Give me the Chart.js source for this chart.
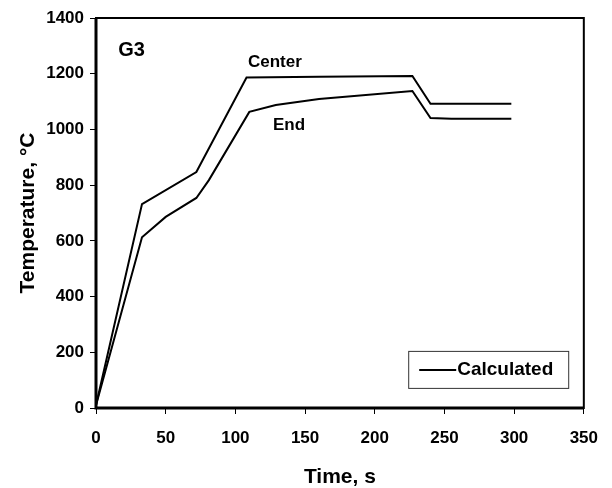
<!DOCTYPE html>
<html>
<head>
<meta charset="utf-8">
<script src="https://cdn.jsdelivr.net/npm/chart.js@4"></script>
<style>
  body { margin: 0; background: #fff; }
  #wrap { width: 612px; height: 488px; }
</style>
</head>
<body>
<div id="wrap"><canvas id="myChart"></canvas></div>
<script>
const timeCenter = [0, 33, 72, 108, 160, 227, 240, 298];
const tempCenter = [10, 732, 847, 1186, 1189, 1192, 1092, 1092];
const timeEnd = [0, 33, 50, 72, 81, 110, 129, 160, 227, 240, 255, 298];
const tempEnd = [10, 613, 686, 754, 818, 1063, 1088, 1109, 1138, 1041, 1038, 1038];
const xTicks = [0, 50, 100, 150, 200, 250, 300, 350];
const yTicks = [0, 200, 400, 600, 800, 1000, 1200, 1400];

const FONT = "'Liberation Sans', Arial, sans-serif";
const ctx = document.querySelector("#myChart");

const toPoints = (xs, ys) => xs.map((x, i) => ({ x: x, y: ys[i] }));

// frame, curve labels and the little legend box
const extras = {
  id: "extras",
  afterDraw(chart) {
    const c = chart.ctx;
    const a = chart.chartArea;
    const sx = chart.scales.x;
    const sy = chart.scales.y;
    c.save();
    c.strokeStyle = "#000";
    c.lineWidth = 2;
    c.strokeRect(a.left, a.top, a.right - a.left, a.bottom - a.top);
    c.lineWidth = 3;
    c.beginPath();
    c.moveTo(a.left, a.top);
    c.lineTo(a.left, a.bottom);
    c.lineTo(a.right, a.bottom);
    c.stroke();

    c.fillStyle = "#000";
    c.textBaseline = "middle";
    c.font = "bold 20px " + FONT;
    c.fillText("G3", sx.getPixelForValue(16), sy.getPixelForValue(1285));
    c.font = "bold 17px " + FONT;
    c.fillText("Center", sx.getPixelForValue(109), sy.getPixelForValue(1242));
    c.fillText("End", sx.getPixelForValue(127), sy.getPixelForValue(1016));

    // legend
    const lx = sx.getPixelForValue(224), ly = sy.getPixelForValue(205);
    const lw = 160, lh = 37;
    c.lineWidth = 1;
    c.strokeStyle = "#333";
    c.strokeRect(lx + 0.5, ly + 0.5, lw, lh);
    c.strokeStyle = "#000";
    c.lineWidth = 2;
    c.beginPath();
    c.moveTo(lx + 11, ly + 19);
    c.lineTo(lx + 48, ly + 19);
    c.stroke();
    c.font = "bold 19px " + FONT;
    c.fillText("Calculated", lx + 49, ly + 19);
    c.restore();
  }
};

new Chart(ctx, {
  type: "scatter",
  data: {
    datasets: [
      {
        label: "Center",
        data: toPoints(timeCenter, tempCenter),
        showLine: true,
        borderColor: "#000",
        borderWidth: 2,
        pointRadius: 0,
        tension: 0,
      },
      {
        label: "End",
        data: toPoints(timeEnd, tempEnd),
        showLine: true,
        borderColor: "#000",
        borderWidth: 2,
        pointRadius: 0,
        tension: 0,
      },
    ],
  },
  options: {
    responsive: true,
    maintainAspectRatio: false,
    animation: false,
    layout: { padding: { top: 18, right: 26, left: 0, bottom: 0 } },
    plugins: {
      legend: { display: false },
      tooltip: { enabled: false },
    },
    scales: {
      x: {
        type: "linear",
        min: 0,
        max: 350,
        afterBuildTicks: (s) => { s.ticks = xTicks.map((v) => ({ value: v })); },
        afterFit: (s) => { s.height = 80; },
        grid: { display: true, drawOnChartArea: false, drawTicks: true, tickLength: 6, tickColor: "#000", lineWidth: 1 },
        border: { display: false },
        ticks: {
          color: "#000", padding: 14, maxRotation: 0,
          font: { family: FONT, size: 17, weight: "bold" },
          callback: (v) => String(v),
        },
        title: {
          display: true,
          text: "Time, s",
          color: "#000",
          font: { family: FONT, size: 21, weight: "bold" },
          padding: { top: 6, bottom: -2 },
        },
      },
      y: {
        type: "linear",
        min: 0,
        max: 1400,
        afterBuildTicks: (s) => { s.ticks = yTicks.map((v) => ({ value: v })); },
        afterFit: (s) => { s.width = 96; },
        grid: { display: true, drawOnChartArea: false, drawTicks: true, tickLength: 6, tickColor: "#000", lineWidth: 1 },
        border: { display: false },
        ticks: {
          color: "#000", padding: 6,
          font: { family: FONT, size: 17, weight: "bold" },
          callback: (v) => String(v),
        },
        title: {
          display: true,
          text: "Temperature, °C",
          color: "#000",
          font: { family: FONT, size: 21, weight: "bold" },
          padding: { top: 16 },
        },
      },
    },
  },
  plugins: [extras],
});
</script>
</body>
</html>
